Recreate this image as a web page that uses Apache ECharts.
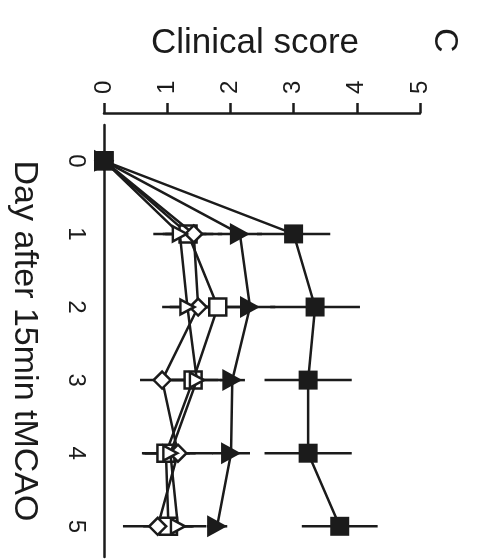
<!DOCTYPE html>
<html>
<head>
<meta charset="utf-8">
<script src="https://cdn.jsdelivr.net/npm/echarts@6/dist/echarts.min.js"></script>
<style>
  html, body { margin: 0; padding: 0; background: #fff; }
  #chart { width: 477px; height: 559px; }
</style>
</head>
<body>
<div id="chart"></div>
<script>
// Days after occlusion (vertical axis) and clinical score ticks (horizontal axis)
const days = [0, 1, 2, 3, 4, 5];
const scoreTicks = [0, 1, 2, 3, 4, 5];

// Group means and SD per day
const filledSquare   = [0, 3.00, 3.34, 3.23, 3.23, 3.73];
const filledSquareSd = [0, 0.58, 0.71, 0.69, 0.69, 0.60];

const filledTriangle   = [0, 2.15, 2.31, 2.03, 2.01, 1.79];
const filledTriangleSd = [0, 0.35, 0.40, 0.20, 0.30, 0.16];

const openSquare   = [0, 1.33, 1.80, 1.41, 0.98, 1.02];
const openSquareSd = [0, 0.40, 0.45, 0.40, 0.38, 0.40];

const openDiamond   = [0, 1.42, 1.49, 0.92, 1.17, 0.85];
const openDiamondSd = [0, 0.45, 0.45, 0.35, 0.55, 0.55];

const openTriangle   = [0, 1.20, 1.32, 1.47, 1.05, 1.17];
const openTriangleSd = [0, 0.42, 0.40, 0.40, 0.40, 0.45];

const ink = '#1b1b1b';
const font = '"Liberation Sans", Arial, sans-serif';

function errorBars(vals, sds, z) {
  return {
    type: 'custom',
    xAxisIndex: 1,
    yAxisIndex: 1,
    silent: true,
    z: z,
    encode: { x: 0, y: 1 },
    data: days.map((d, i) => [vals[i], d, sds[i]]),
    renderItem: function (params, api) {
      const v = api.value(0), d = api.value(1), e = api.value(2);
      const a = api.coord([v - e, d]);
      const b = api.coord([v + e, d]);
      return {
        type: 'line',
        shape: { x1: a[0], y1: a[1], x2: b[0], y2: b[1] },
        style: { stroke: ink, lineWidth: 2.5 }
      };
    }
  };
}

function group(vals, symbol, size, rotate, fill, z) {
  return {
    type: 'line',
    xAxisIndex: 1,
    yAxisIndex: 1,
    z: z,
    data: days.map((d, i) => [vals[i], d]),
    symbol: symbol,
    symbolSize: size,
    symbolRotate: rotate,
    showAllSymbol: true,
    lineStyle: { color: ink, width: 2.5 },
    itemStyle: { color: fill, borderColor: ink, borderWidth: fill === ink ? 0 : 2.5 },
    emphasis: { disabled: true }
  };
}

const chart = echarts.init(document.getElementById('chart'), null, { renderer: 'canvas' });

chart.setOption({
  backgroundColor: '#fff',
  animation: false,
  grid: [
    { left: 104, right: 57, top: 113, height: 100, outerBoundsMode: 'none', containLabel: false },
    { left: 104, right: 57, top: 125, bottom: 2, outerBoundsMode: 'none', containLabel: false }
  ],
  xAxis: [
    {
      gridIndex: 0,
      type: 'value',
      position: 'top',
      min: 0, max: 5, interval: 1,
      name: 'Clinical score',
      nameLocation: 'middle',
      nameGap: 52,
      nameMoveOverlap: false,
      nameTextStyle: { fontFamily: font, fontSize: 35, color: ink, padding: [0, 14, 0, 0] },
      axisLine: { onZero: false, lineStyle: { color: ink, width: 2.5 } },
      axisTick: { inside: false, length: 10, lineStyle: { color: ink, width: 2.5 } },
      axisLabel: {
        customValues: scoreTicks,
        rotate: -90, margin: 19,
        fontFamily: font, fontSize: 24, color: ink
      },
      splitLine: { show: false }
    },
    { gridIndex: 1, type: 'value', min: 0, max: 5, show: false }
  ],
  yAxis: [
    { gridIndex: 0, type: 'value', min: 0, max: 1, show: false },
    {
      gridIndex: 1,
      type: 'value',
      inverse: true,
      min: -0.49, max: 5.42,
      name: 'Day after 15min tMCAO',
      nameLocation: 'middle',
      nameRotate: -90,
      nameGap: 63,
      nameMoveOverlap: false,
      nameTextStyle: { fontFamily: font, fontSize: 34, color: ink },
      axisLine: { show: true, onZero: false, lineStyle: { color: ink, width: 2.5 } },
      axisTick: { show: false },
      axisLabel: {
        customValues: days,
        rotate: -90, margin: 16,
        fontFamily: font, fontSize: 24, color: ink
      },
      splitLine: { show: false }
    }
  ],
  graphic: [
    {
      type: 'text',
      right: 16, top: 28,
      rotation: -Math.PI / 2,
      style: { text: 'C', font: '34px ' + font, fill: ink }
    }
  ],
  series: [
    errorBars(openSquare, openSquareSd, 1),
    errorBars(openDiamond, openDiamondSd, 1),
    errorBars(openTriangle, openTriangleSd, 1),
    errorBars(filledTriangle, filledTriangleSd, 1),
    errorBars(filledSquare, filledSquareSd, 1),
    group(openSquare, 'rect', 17, 0, '#fff', 2),
    group(openDiamond, 'diamond', 17, 0, '#fff', 3),
    group(openTriangle, 'triangle', [15, 14], -90, '#fff', 4),
    group(filledTriangle, 'triangle', [22, 20], -90, ink, 5),
    group(filledSquare, 'rect', 19, 0, ink, 6)
  ]
});
</script>
</body>
</html>
